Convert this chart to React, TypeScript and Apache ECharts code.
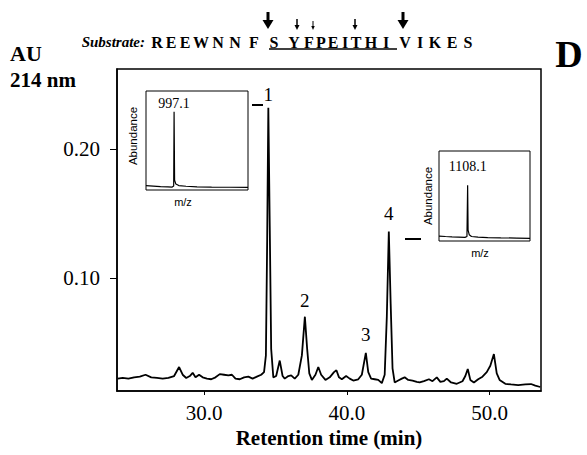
import React, { useEffect, useRef } from "react";
import * as echarts from "echarts";

// Chromatogram (retention time in min, absorbance AU at 214 nm)
const retentionTime = [
  23.95, 24.3, 24.7, 25.1, 25.5, 25.9, 26.3, 26.7, 27.1, 27.5, 27.9, 28.25, 28.5, 28.75, 29.0, 29.2, 29.4, 29.65, 29.9,
  30.2, 30.5, 30.8, 31.1, 31.4, 31.7, 31.95, 32.2, 32.5, 32.8, 33.1, 33.4, 33.7, 34.0, 34.2, 34.33, 34.42, 34.5, 34.6,
  34.7, 34.85, 35.05, 35.3, 35.5, 35.65, 35.9, 36.1, 36.35, 36.6, 36.85, 37.06, 37.22, 37.37, 37.55, 37.8, 38.0, 38.2,
  38.5, 38.8, 39.1, 39.27, 39.45, 39.65, 39.95, 40.2, 40.45, 40.8, 41.05, 41.33, 41.5, 41.7, 41.95, 42.2, 42.45, 42.65,
  42.8, 42.94, 43.07, 43.2, 43.35, 43.6, 43.85, 44.05, 44.3, 44.6, 44.9, 45.1, 45.4, 45.75, 46.0, 46.3, 46.55, 46.8,
  47.0, 47.3, 47.7, 48.1, 48.3, 48.47, 48.65, 48.9, 49.2, 49.5, 49.8, 50.05, 50.3, 50.5, 50.7, 51.1, 51.5, 52.0, 52.5,
  52.9, 53.2, 53.55,
];
const absorbance = [
  0.022, 0.0225, 0.022, 0.023, 0.0235, 0.025, 0.023, 0.0225, 0.022, 0.0225, 0.024, 0.031, 0.025, 0.0225, 0.024, 0.0265,
  0.023, 0.025, 0.023, 0.022, 0.0215, 0.023, 0.0255, 0.025, 0.0245, 0.025, 0.022, 0.0215, 0.023, 0.0235, 0.022, 0.0235,
  0.025, 0.027, 0.04, 0.13, 0.232, 0.14, 0.045, 0.023, 0.024, 0.036, 0.024, 0.022, 0.024, 0.0245, 0.022, 0.025, 0.04,
  0.07, 0.045, 0.026, 0.021, 0.025, 0.031, 0.025, 0.021, 0.023, 0.027, 0.0285, 0.023, 0.0215, 0.024, 0.022, 0.0205,
  0.0215, 0.025, 0.042, 0.027, 0.022, 0.0215, 0.021, 0.0185, 0.025, 0.07, 0.136, 0.08, 0.03, 0.019, 0.0205, 0.022, 0.023,
  0.021, 0.0205, 0.0195, 0.019, 0.02, 0.0215, 0.02, 0.023, 0.0195, 0.02, 0.022, 0.019, 0.018, 0.02, 0.024, 0.0295, 0.021,
  0.019, 0.0215, 0.0235, 0.027, 0.032, 0.041, 0.026, 0.021, 0.018, 0.0175, 0.017, 0.0175, 0.0178, 0.0165, 0.0155,
];
const peakNames = ["1", "2", "3", "4"];
const peakTimes = [34.5, 37.06, 41.33, 42.94];
const xTicks = [30, 40, 50];
const yTicks = [0.1, 0.2];

// Mass spectrum insets
const ms1Mz = [920, 940, 960, 980, 992, 996, 997.1, 998.5, 1002, 1010, 1030, 1060, 1100, 1150, 1200];
const ms1Abundance = [4.5, 4, 3.5, 3.2, 3, 4, 79, 10, 6, 4.5, 3.8, 3.2, 3, 2.8, 2.6];
const ms1PeakLabel = "997.1";
const ms2Mz = [1020, 1040, 1060, 1080, 1100, 1106, 1108.1, 1109.5, 1113, 1120, 1140, 1170, 1210, 1260, 1300];
const ms2Abundance = [5.5, 5, 4.6, 4.3, 4, 5, 62, 12, 7, 5, 4.2, 3.8, 3.5, 3.2, 3];
const ms2PeakLabel = "1108.1";

const substrate = "REEWNNFSYFPEITHIVIKES";

const SERIF = "'Liberation Serif', 'Times New Roman', serif";
const SANS = "'Liberation Sans', Arial, sans-serif";

export default function App() {
  const ref = useRef<HTMLDivElement>(null);

  useEffect(() => {
    if (!ref.current) return;
    const chart = echarts.init(ref.current, null, { renderer: "svg" });

    const mainData = retentionTime.map((t, i) => [t, absorbance[i]]);
    const peakLabelGap = [4, 7, 9, 9];
    const peakMarks = peakNames.map((name, k) => {
      const idx = retentionTime.indexOf(peakTimes[k]);
      return {
        coord: [retentionTime[idx], absorbance[idx]],
        label: { formatter: name, distance: peakLabelGap[k] },
      };
    });

    const ms1Data = ms1Mz.map((m, i) => [m, ms1Abundance[i]]);
    const ms2Data = ms2Mz.map((m, i) => [m, ms2Abundance[i]]);
    const ms1Peak = ms1Abundance.indexOf(Math.max(...ms1Abundance));
    const ms2Peak = ms2Abundance.indexOf(Math.max(...ms2Abundance));

    // header letters
    const letterX = [157, 171, 185, 201, 218, 235, 254, 274, 294, 309, 321, 333, 345, 356, 371, 386, 405, 420, 435, 452, 468];
    const letters = substrate.split("").map((ch, i) => ({
      type: "text",
      x: letterX[i],
      y: 42,
      style: {
        text: ch,
        font: `bold 16px ${SERIF}`,
        fill: "#000",
        textAlign: "center",
        textVerticalAlign: "middle",
      },
    }));

    const arrow = (x: number, size: "big" | "small" | "tiny") => {
      const spec =
        size === "big"
          ? { y0: 12, yh: 20, y1: 29, w: 11, lw: 3 }
          : size === "small"
          ? { y0: 19, yh: 25, y1: 30, w: 5, lw: 1.5 }
          : { y0: 21, yh: 26, y1: 30, w: 3.5, lw: 1 };
      return [
        {
          type: "line",
          shape: { x1: x, y1: spec.y0, x2: x, y2: spec.yh + 1 },
          style: { stroke: "#000", lineWidth: spec.lw },
        },
        {
          type: "polygon",
          shape: {
            points: [
              [x - spec.w / 2, spec.yh],
              [x + spec.w / 2, spec.yh],
              [x, spec.y1],
            ],
          },
          style: { fill: "#000" },
        },
      ];
    };

    const option: any = {
      animation: false,
      backgroundColor: "#fff",
      grid: [
        {
          left: 117,
          top: 69,
          width: 424,
          height: 322,
          show: true,
          borderColor: "#000",
          borderWidth: 1.5,
        },
        {
          left: 146,
          top: 91,
          width: 102,
          height: 99,
          show: true,
          borderColor: "#000",
          borderWidth: 1,
          backgroundColor: "#fff",
          z: 5,
        },
        {
          left: 439,
          top: 151,
          width: 91,
          height: 90,
          show: true,
          borderColor: "#000",
          borderWidth: 1,
          backgroundColor: "#fff",
          z: 5,
        },
      ],
      xAxis: [
        {
          type: "value",
          gridIndex: 0,
          min: 23.9,
          max: 53.6,
          axisLine: { show: true, lineStyle: { color: "#000", width: 1.5 } },
          axisTick: { show: true, length: 4, customValues: xTicks, lineStyle: { color: "#000" } },
          axisLabel: {
            customValues: xTicks,
            formatter: (v: number) => v.toFixed(1),
            color: "#000",
            fontFamily: SERIF,
            fontSize: 21,
            margin: 11,
          },
          splitLine: { show: false },
          name: "Retention time (min)",
          nameLocation: "middle",
          nameGap: 32,
          nameTextStyle: { color: "#000", fontFamily: SERIF, fontSize: 21, fontWeight: "bold" },
        },
        {
          type: "value",
          gridIndex: 1,
          min: 920,
          max: 1200,
          axisLine: { show: false },
          axisTick: { show: false },
          axisLabel: { show: false },
          splitLine: { show: false },
          name: "m/z",
          nameLocation: "middle",
          nameGap: 6,
          nameTextStyle: { color: "#000", fontFamily: SANS, fontSize: 11, padding: [0, 28, 0, 0] },
        },
        {
          type: "value",
          gridIndex: 2,
          min: 1020,
          max: 1300,
          axisLine: { show: false },
          axisTick: { show: false },
          axisLabel: { show: false },
          splitLine: { show: false },
          name: "m/z",
          nameLocation: "middle",
          nameGap: 6,
          nameTextStyle: { color: "#000", fontFamily: SANS, fontSize: 11, padding: [0, 9, 0, 0] },
        },
      ],
      yAxis: [
        {
          type: "value",
          gridIndex: 0,
          min: 0.0124,
          max: 0.262,
          axisLine: { show: true, lineStyle: { color: "#000", width: 1.5 } },
          axisTick: { show: true, length: 7, customValues: yTicks, lineStyle: { color: "#000" } },
          axisLabel: {
            customValues: yTicks,
            formatter: (v: number) => v.toFixed(2),
            color: "#000",
            fontFamily: SERIF,
            fontSize: 21,
            margin: 17,
          },
          splitLine: { show: false },
        },
        {
          type: "value",
          gridIndex: 1,
          min: 0,
          max: 100,
          axisLine: { show: false },
          axisTick: { show: false },
          axisLabel: { show: false },
          splitLine: { show: false },
          name: "Abundance",
          nameLocation: "middle",
          nameRotate: 90,
          nameGap: 7,
          nameTextStyle: { color: "#000", fontFamily: SANS, fontSize: 11.5, padding: [0, 0, 0, 9] },
        },
        {
          type: "value",
          gridIndex: 2,
          min: 0,
          max: 100,
          axisLine: { show: false },
          axisTick: { show: false },
          axisLabel: { show: false },
          splitLine: { show: false },
          name: "Abundance",
          nameLocation: "middle",
          nameRotate: 90,
          nameGap: 5,
          nameTextStyle: { color: "#000", fontFamily: SANS, fontSize: 11.5 },
        },
      ],
      series: [
        {
          type: "line",
          xAxisIndex: 0,
          yAxisIndex: 0,
          data: mainData,
          showSymbol: false,
          symbol: "none",
          lineStyle: { color: "#000", width: 1.8 },
          z: 3,
          markPoint: {
            symbol: "circle",
            symbolSize: 0,
            label: {
              show: true,
              position: "top",
              color: "#000",
              fontFamily: SERIF,
              fontSize: 19,
            },
            data: peakMarks,
          },
        },
        {
          type: "line",
          xAxisIndex: 1,
          yAxisIndex: 1,
          data: ms1Data,
          showSymbol: false,
          symbol: "none",
          lineStyle: { color: "#000", width: 1.2 },
          z: 6,
          markPoint: {
            symbol: "circle",
            symbolSize: 0,
            label: {
              show: true,
              position: "top",
              color: "#000",
              fontFamily: SERIF,
              fontSize: 14,
              distance: 1,
              formatter: ms1PeakLabel,
            },
            data: [{ coord: ms1Data[ms1Peak] }],
          },
        },
        {
          type: "line",
          xAxisIndex: 2,
          yAxisIndex: 2,
          data: ms2Data,
          showSymbol: false,
          symbol: "none",
          lineStyle: { color: "#000", width: 1.2 },
          z: 6,
          markPoint: {
            symbol: "circle",
            symbolSize: 0,
            label: {
              show: true,
              position: "top",
              color: "#000",
              fontFamily: SERIF,
              fontSize: 14,
              distance: 12,
              formatter: ms2PeakLabel,
            },
            data: [{ coord: ms2Data[ms2Peak] }],
          },
        },
      ],
      graphic: [
        {
          type: "text",
          x: 10,
          y: 53,
          style: { text: "AU", font: `bold 22px ${SERIF}`, fill: "#000", textVerticalAlign: "middle" },
        },
        {
          type: "text",
          x: 10,
          y: 80,
          style: { text: "214 nm", font: `bold 21px ${SERIF}`, fill: "#000", textVerticalAlign: "middle" },
        },
        {
          type: "text",
          x: 569,
          y: 54,
          style: {
            text: "D",
            font: `bold 38px ${SERIF}`,
            fill: "#000",
            textAlign: "center",
            textVerticalAlign: "middle",
          },
        },
        {
          type: "text",
          x: 145,
          y: 42,
          style: {
            text: "Substrate:",
            font: `italic bold 15px ${SERIF}`,
            fill: "#000",
            textAlign: "right",
            textVerticalAlign: "middle",
          },
        },
        ...letters,
        {
          type: "line",
          shape: { x1: 269, y1: 49, x2: 397, y2: 49 },
          style: { stroke: "#000", lineWidth: 1.5 },
        },
        ...arrow(268, "big"),
        ...arrow(297, "small"),
        ...arrow(313, "tiny"),
        ...arrow(355, "small"),
        ...arrow(403, "big"),
        {
          type: "line",
          shape: { x1: 252, y1: 105, x2: 263, y2: 105 },
          style: { stroke: "#000", lineWidth: 2 },
        },
        {
          type: "line",
          shape: { x1: 405, y1: 239, x2: 421, y2: 239 },
          style: { stroke: "#000", lineWidth: 2 },
        },
      ],
    };

    chart.setOption(option);
    return () => chart.dispose();
  }, []);

  return <div ref={ref} style={{ width: 587, height: 455, position: "absolute", left: 0, top: 0 }} />;
}
